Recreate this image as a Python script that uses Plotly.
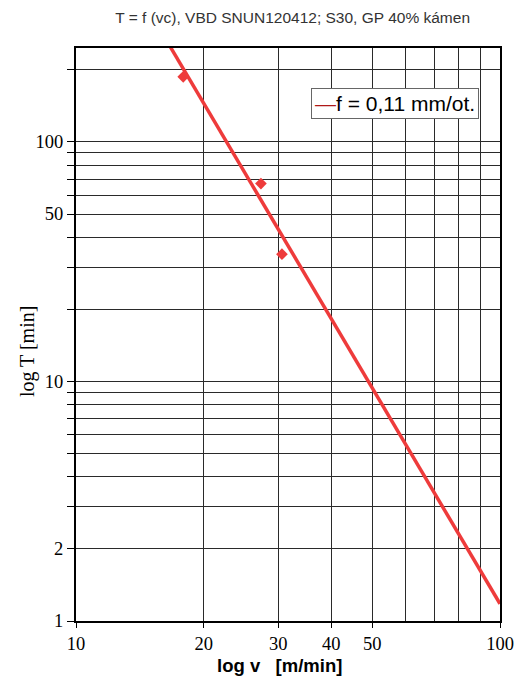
import plotly.graph_objects as go

# measured points
v_pts = [17.9, 27.3, 30.6]
T_pts = [187, 67, 34]

# regression line endpoints
v_line = [16.5, 100]
T_line = [258, 1.18]

x_labels = [10, 20, 30, 40, 50, 100]
x_minor = [60, 70, 80, 90]
y_labels = [1, 2, 10, 50, 100]
y_minor = [3, 4, 5, 6, 7, 8, 9, 20, 30, 40, 60, 70, 80, 90, 200]

legend_text = "f = 0,11 mm/ot."
x_title = "log v\u00a0\u00a0\u00a0[m/min]"
y_title = "log T [min]"

red = "#ee3b3b"

fig = go.Figure()
fig.add_trace(go.Scatter(
    x=v_line, y=T_line, mode="lines",
    line=dict(color=red, width=3.5),
    name=legend_text, showlegend=False,
))
fig.add_trace(go.Scatter(
    x=v_pts, y=T_pts, mode="markers",
    marker=dict(symbol="diamond", color=red, size=9),
    showlegend=False,
))

grid = "#2a2a2a"
fig.update_xaxes(
    type="log", range=[1, 2], automargin=False,
    tickvals=x_labels, ticktext=[str(v) for v in x_labels],
    showgrid=True, gridcolor=grid, gridwidth=1,
    minor=dict(tickvals=x_minor, showgrid=True, gridcolor=grid, gridwidth=1),
    ticks="outside", ticklen=5, tickcolor="black",
    tickfont=dict(family="Liberation Serif", size=18.5, color="black"),
    showline=True, linecolor="black", linewidth=2, mirror=True,
    zeroline=False,
)
fig.update_yaxes(
    type="log", range=[0, 2.392], automargin=False,
    tickvals=y_labels, ticktext=[str(v) for v in y_labels],
    showgrid=True, gridcolor=grid, gridwidth=1,
    minor=dict(tickvals=y_minor, showgrid=True, gridcolor=grid, gridwidth=1,
               ticks="outside", ticklen=7, tickcolor="black"),
    ticks="outside", ticklen=7, tickcolor="black",
    tickfont=dict(family="Liberation Serif", size=18.5, color="black"),
    showline=True, linecolor="black", linewidth=2, mirror=True,
    zeroline=False,
)
fig.update_layout(
    width=517, height=684,
    margin=dict(l=76, r=17, t=48, b=63),
    paper_bgcolor="white", plot_bgcolor="white",
    showlegend=False,
    title=dict(text="T = f (vc), VBD SNUN120412; S30, GP 40% kámen",
               x=0.566, xanchor="center", y=0.974, yanchor="middle",
               font=dict(family="Liberation Sans", size=15.5, color="#333333")),
)
# axis titles
fig.add_annotation(
    xref="paper", yref="paper", x=0.479, y=-0.077, xanchor="center", yanchor="middle",
    text=x_title, showarrow=False,
    font=dict(family="Liberation Sans", size=18.5, color="black", weight="bold"),
)
fig.add_annotation(
    xref="paper", yref="paper", x=-0.1156, y=0.471, xanchor="center", yanchor="middle",
    text=y_title, showarrow=False, textangle=-90,
    font=dict(family="Liberation Serif", size=20, color="black"),
)
# legend box
fig.add_annotation(
    xref="paper", yref="paper", x=0.555, y=0.93, xanchor="left", yanchor="top",
    text="<span style='color:#b01818'>\u2014</span>" + legend_text,
    showarrow=False, align="left",
    font=dict(family="Liberation Sans", size=21, color="black"),
    bgcolor="white", bordercolor="#666666", borderwidth=1, borderpad=3,
)

fig.write_html("out.html",
               config={"displayModeBar": False},
               post_script="document.body.style.margin='0';document.body.style.overflow='hidden';")
